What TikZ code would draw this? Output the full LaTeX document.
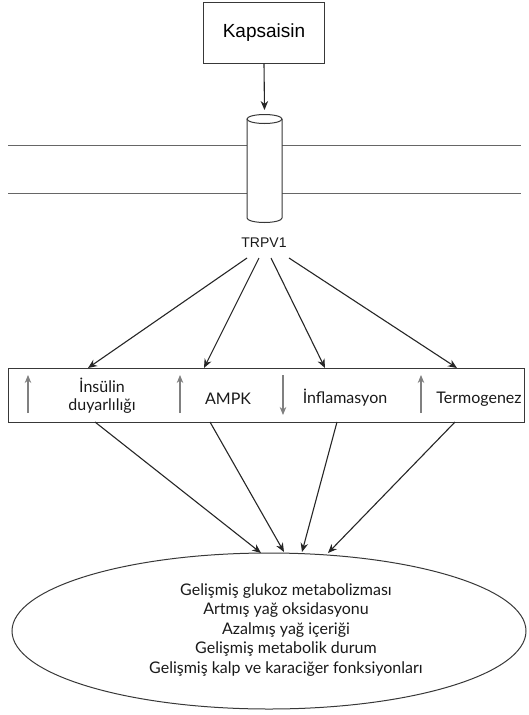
\documentclass[tikz,border=0pt]{standalone}
\usepackage{fontspec}
\setmainfont{Lato}
\newfontfamily\arialfont{Liberation Sans}
\usetikzlibrary{arrows.meta,shapes.geometric}

\begin{document}
\begin{tikzpicture}[x=1pt,y=-1pt,
  ln/.style={draw=black!78, line width=1pt},
  thin/.style={draw=black!60, line width=0.9pt},
  arr/.style={draw=black!85, line width=1.1pt, -{Stealth[length=9pt,width=7.5pt]}},
  grayarr/.style={draw=black!50, line width=1.1pt, -{Stealth[length=8pt,width=6.5pt,fill=black!85]}},
  lbl/.style={font=\fontsize{16}{18}\selectfont, text=black!90, align=center, inner sep=0pt}]
\useasboundingbox (0,0) rectangle (529,715);

% stimulus box
\node[ln, minimum width=121pt, minimum height=61pt, inner sep=0pt,
      font=\arialfont\fontsize{19}{22}\selectfont] (kap) at (264,32.5) {Kapsaisin};

% membrane with the channel
\coordinate (cyltop) at (264.5,110);
\coordinate (ml1) at (8,145);  \coordinate (mr1) at (521,145);
\coordinate (ml2) at (8,193);  \coordinate (mr2) at (521,193);
\draw[thin] (ml1) -- (247,145) (282,145) -- (mr1);
\draw[thin] (ml2) -- (247,193) (282,193) -- (mr2);
\filldraw[ln, fill=white] (247,119) -- (247,218) arc[start angle=180, end angle=0, x radius=17.5, y radius=4.5] -- (282,119);
\draw[ln] (264.5,119) ellipse [x radius=17.5, y radius=4.5];
\draw[arr] (kap.south) -- (cyltop);

\node[font=\arialfont\fontsize{14}{16}\selectfont, text=black!90] (trpv) at (264,243) {TRPV1};

% effect band
\node[ln, anchor=north west, minimum width=516pt, minimum height=54pt, inner sep=0pt] (band) at (8,368) {};
\node[lbl] (ins) at (102,396) {İnsülin\\duyarlılığı};
\node[lbl] (ampk) at (228,399) {AMPK};
\node[lbl] (infl) at (345,398) {İnflamasyon};
\node[lbl] (term) at (479,399) {Termogenez};
\coordinate (u1a) at (28,413);  \coordinate (u1b) at (28,375);
\coordinate (u2a) at (180,413); \coordinate (u2b) at (180,375);
\coordinate (d3a) at (283,375); \coordinate (d3b) at (283,415);
\coordinate (u4a) at (421,413); \coordinate (u4b) at (421,375);
\draw[grayarr] (u1a) -- (u1b);
\draw[grayarr] (u2a) -- (u2b);
\draw[grayarr] (d3a) -- (d3b);
\draw[grayarr] (u4a) -- (u4b);

% fan from the channel to the band
\coordinate (s1) at (247,258); \coordinate (s2) at (259,258);
\coordinate (s3) at (271,258); \coordinate (s4) at (289,258);
\coordinate (t1) at (88,368);  \coordinate (t2) at (204,368);
\coordinate (t3) at (325,368); \coordinate (t4) at (457,368);
\draw[arr] (s1) -- (t1);
\draw[arr] (s2) -- (t2);
\draw[arr] (s3) -- (t3);
\draw[arr] (s4) -- (t4);

% outcome ellipse
\node[ln, ellipse, minimum width=514pt, minimum height=156pt, inner sep=0pt] (res) at (269,631) {};
\node[lbl, font=\fontsize{16}{19.5}\selectfont] (restxt) at (286,630)
  {Gelişmiş glukoz metabolizması\\Artmış yağ oksidasyonu\\Azalmış yağ içeriği\\Gelişmiş metabolik durum\\Gelişmiş kalp ve karaciğer fonksiyonları};

\coordinate (b1) at (95,422);  \coordinate (b2) at (210,422);
\coordinate (b3) at (337,422); \coordinate (b4) at (455,422);
\coordinate (e1) at (261,553); \coordinate (e2) at (284,552);
\coordinate (e3) at (302,552); \coordinate (e4) at (328,553);
\draw[arr] (b1) -- (e1);
\draw[arr] (b2) -- (e2);
\draw[arr] (b3) -- (e3);
\draw[arr] (b4) -- (e4);
\end{tikzpicture}
\end{document}
